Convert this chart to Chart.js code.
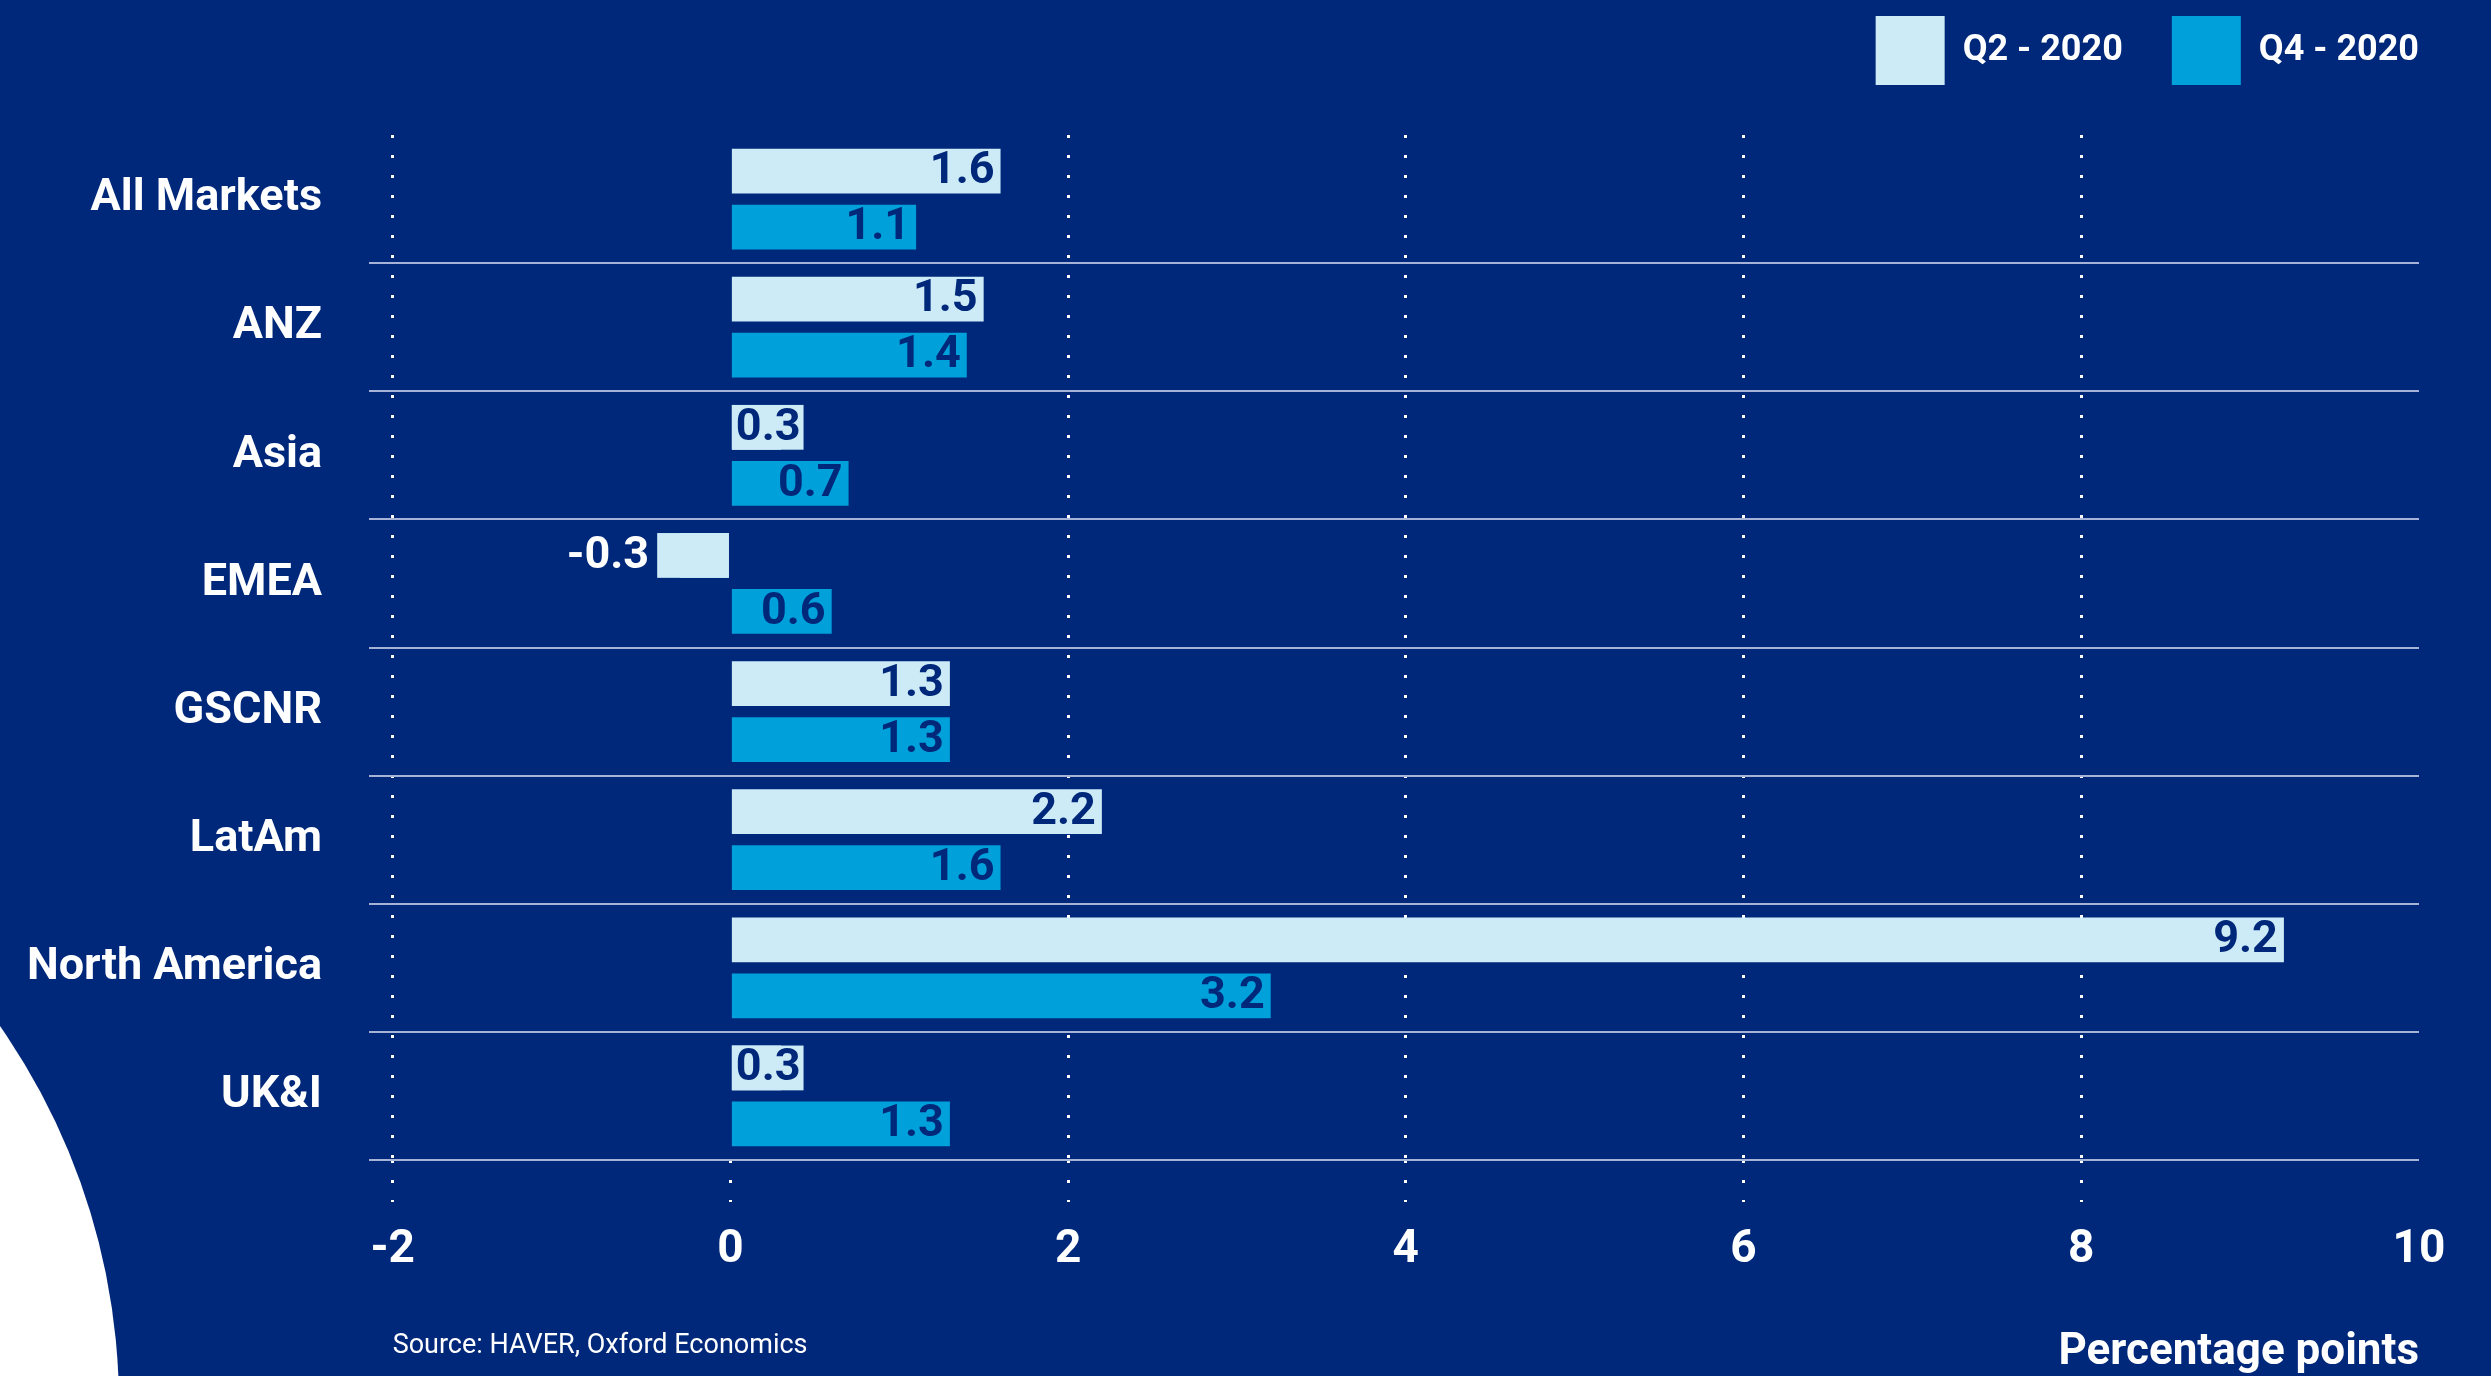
<!DOCTYPE html>
<html>
<head>
<meta charset="utf-8">
<script src="https://cdn.jsdelivr.net/npm/chart.js@4.4.1/dist/chart.umd.min.js"></script>
<style>
  html, body { margin: 0; padding: 0; background: #00287a; overflow: hidden; }
  #wrap { position: relative; width: 2491px; height: 1376px; overflow: hidden; }
  #circle { position: absolute; left: -1207px; top: 742px; width: 1326px; height: 1326px; border-radius: 50%; background: #ffffff; z-index: 0; }
  #c { position: absolute; left: 0; top: 0; z-index: 1; }
</style>
</head>
<body>
<div id="wrap">
  <div id="circle"></div>
  <canvas id="c" width="2491" height="1376"></canvas>
</div>
<script>
// ---- data ----
const categories = ['All Markets', 'ANZ', 'Asia', 'EMEA', 'GSCNR', 'LatAm', 'North America', 'UK&I'];
const seriesNames = ['Q2 - 2020', 'Q4 - 2020'];
const q2Values = [1.6, 1.5, 0.3, -0.3, 1.3, 2.2, 9.2, 0.3];
const q4Values = [1.1, 1.4, 0.7, 0.6, 1.3, 1.6, 3.2, 1.3];
const xTickValues = [-2, 0, 2, 4, 6, 8, 10];
const xTickLabels = ['-2', '0', '2', '4', '6', '8', '10'];
const axisTitle = 'Percentage points';
const sourceText = 'Source: HAVER, Oxford Economics';

// ---- styles ----
const FONT = "Roboto, 'Open Sans', 'DejaVu Sans', sans-serif";
const NAVY = '#00287a';
const LIGHT = '#cdebf7';
const BRIGHT = '#00a0db';
const SEP = '#a6b3d6';
const CLEAR = 'rgba(0,0,0,0)';

const legendSpacer = {
  id: 'legendSpacer',
  beforeUpdate(chart) {
    const lg = chart.legend;
    if (lg && !lg._patched) {
      const fit = lg.fit;
      lg.fit = function () { fit.apply(this, arguments); this.height = 135; };
      const draw = lg.draw;
      lg.draw = function () {
        const t = this.top, r = this.right;
        const p = this.options.labels.padding;
        this.top = t + 16 - p;
        this.right = r + p;
        draw.apply(this, arguments);
        this.top = t; this.right = r;
      };
      lg._patched = true;
    }
  }
};

const barLabels = {
  id: 'barLabels',
  afterDatasetsDraw(chart) {
    const ctx = chart.ctx;
    ctx.save();
    ctx.font = 'bold 45px ' + FONT;
    ctx.textBaseline = 'middle';
    ctx.textAlign = 'right';
    chart.data.datasets.forEach((ds, di) => {
      const meta = chart.getDatasetMeta(di);
      meta.data.forEach((bar, i) => {
        const v = ds.data[i];
        const txt = v.toFixed(1);
        const p = bar.getProps(['x', 'y', 'base', 'height'], true);
        const boxW = ctx.measureText(Math.abs(v).toFixed(1)).width + 7;
        const top = p.y - p.height / 2;
        if (v >= 0) {
          let right = p.x - 6;
          if (p.x - p.base < boxW) {
            ctx.fillStyle = ds.backgroundColor;
            ctx.fillRect(p.base, top, boxW, p.height);
            right = p.base + boxW - 3;
          }
          ctx.fillStyle = NAVY;
          ctx.fillText(txt, right, p.y + 1);
        } else {
          let left = p.x;
          if (p.base - p.x < boxW) {
            ctx.fillStyle = ds.backgroundColor;
            ctx.fillRect(p.base - boxW, top, boxW, p.height);
            left = p.base - boxW;
          }
          ctx.fillStyle = '#ffffff';
          ctx.fillText(txt, left - 8, p.y + 1);
        }
      });
    });
    ctx.restore();
  }
};

const sourceNote = {
  id: 'sourceNote',
  afterDraw(chart) {
    const ctx = chart.ctx;
    const xs = chart.scales.x;
    ctx.save();
    ctx.font = '27px ' + FONT;
    ctx.fillStyle = '#ffffff';
    ctx.textAlign = 'left';
    ctx.textBaseline = 'alphabetic';
    ctx.fillText(sourceText, xs.getPixelForValue(xTickValues[0]), chart.height - 23);
    ctx.restore();
  }
};

new Chart(document.getElementById('c'), {
  type: 'bar',
  data: {
    labels: categories,
    datasets: [
      { label: seriesNames[0], data: q2Values, backgroundColor: LIGHT, borderWidth: 0 },
      { label: seriesNames[1], data: q4Values, backgroundColor: BRIGHT, borderWidth: 0 }
    ]
  },
  options: {
    indexAxis: 'y',
    responsive: false,
    animation: false,
    devicePixelRatio: 1,
    categoryPercentage: 0.874,
    barPercentage: 0.8,
    layout: { padding: { top: 0, right: 72, bottom: 0, left: 0 } },
    plugins: {
      legend: {
        position: 'top',
        align: 'end',
        labels: {
          boxWidth: 69,
          boxHeight: 69,
          padding: 49,
          color: '#ffffff',
          font: { family: FONT, size: 36, weight: 'bold' }
        }
      },
      tooltip: { enabled: false }
    },
    scales: {
      x: {
        type: 'linear',
        min: -2.14,
        max: 10,
        afterBuildTicks: s => { s.ticks = xTickValues.map(v => ({ value: v })); },
        afterFit: s => { s.height = 216; },
        border: { display: false, dash: [3, 17] },
        grid: {
          color: c => (c.tick && (c.tick.value === 10 || c.tick.value === 0)) ? CLEAR : '#ffffff',
          tickColor: c => (c.tick && c.tick.value === 10) ? CLEAR : '#ffffff',
          lineWidth: 3,
          tickBorderDash: [3, 17],
          tickLength: 42,
          drawTicks: true
        },
        ticks: {
          color: '#ffffff',
          padding: 25,
          maxRotation: 0,
          autoSkip: false,
          font: { family: FONT, size: 46, weight: 'bold', lineHeight: 1 },
          callback: (v) => {
            const k = xTickValues.indexOf(v);
            return k >= 0 ? xTickLabels[k] : '';
          }
        },
        title: {
          display: true,
          text: axisTitle,
          align: 'end',
          color: '#ffffff',
          padding: { top: 0, bottom: 1 },
          font: { family: FONT, size: 44, weight: 'bold', lineHeight: 1 }
        }
      },
      y: {
        type: 'category',
        afterFit: s => { s.width = 369; },
        border: { display: false },
        grid: {
          offset: true,
          drawTicks: false,
          lineWidth: 2,
          color: c => (c.index === 0) ? CLEAR : SEP
        },
        ticks: {
          color: '#ffffff',
          padding: 47,
          font: { family: FONT, size: 45, weight: 'bold' }
        }
      }
    }
  },
  plugins: [legendSpacer, barLabels, sourceNote]
});
</script>
</body>
</html>
